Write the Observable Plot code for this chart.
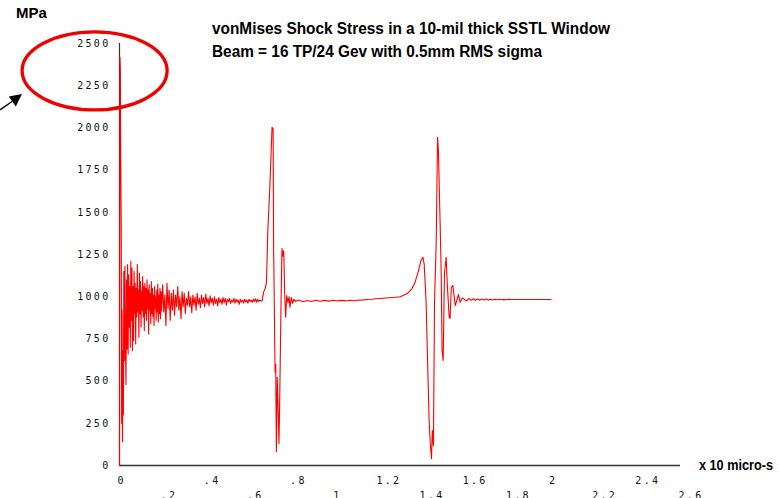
<!DOCTYPE html>
<html>
<head>
<meta charset="utf-8">
<script src="https://cdn.jsdelivr.net/npm/d3@7"></script>
<script src="https://cdn.jsdelivr.net/npm/@observablehq/plot@0.6"></script>
<style>
  html, body { margin: 0; padding: 0; background: #fff; }
  #chart { position: relative; width: 779px; height: 498px; overflow: hidden; }
  #chart g[aria-label$="tick label"] text { letter-spacing: 2.3px; }
</style>
</head>
<body>
<div id="chart"></div>
<script>
// Axis ticks and their printed labels
const yTicks = [0, 250, 500, 750, 1000, 1250, 1500, 1750, 2000, 2250, 2500];
const xTopTicks = [0, 0.4, 0.8, 1.2, 1.6, 2, 2.4];
const xTopLabels = ["0", ".4", ".8", "1.2", "1.6", "2", "2.4"];
const xBottomTicks = [0.2, 0.6, 1, 1.4, 1.8, 2.2, 2.6];
const xBottomLabels = [".2", ".6", "1", "1.4", "1.8", "2.2", "2.6"];

const titleLines = [
  "vonMises Shock Stress in a 10-mil thick SSTL Window",
  "Beam = 16 TP/24 Gev with 0.5mm RMS sigma"
];

// Stress history, time in units of 10 micro-s, stress in MPa
const impact = [
  [0, 0], [0.002, 2420], [0.004, 2350], [0.006, 1780], [0.008, 1430],
  [0.010, 250], [0.012, 920], [0.014, 140], [0.016, 680], [0.018, 300]
];

// Early ring-down, sampled every 0.0025 from t = 0.02
const earlyStart = 0.02;
const earlyStep = 0.0025;
const earlyMPa = [
  1150, 620, 1180, 700, 480, 1100, 690, 1190, 660,
  1130, 820, 1060, 700, 1210, 860, 1170, 680,
  1060, 740, 1150, 900, 1080, 720, 1050, 880,
  1190, 910, 1040, 760, 1140, 900, 1090, 820,
  1030, 920, 1120, 880, 1060, 800, 1080, 900,
  1050, 860, 1100, 930, 1040, 780, 1070, 920,
  1020, 840, 1090, 900, 1050, 880, 1010, 830,
  1060, 930, 1000, 860, 1040, 910, 1075, 850,
  1010, 900, 1050, 870, 1030, 915, 1000
];

// Late ring-down, sampled every 0.005 from t = 0.2
const lateStart = 0.2;
const lateStep = 0.005;
const lateMPa = [
  1070, 910, 1010, 830, 1080, 930, 1040, 860, 1020, 920,
  1040, 890, 1010, 940, 1060, 920, 1000, 870, 1030,
  940, 1020, 900, 990, 950, 1030, 940, 1000, 905, 1010,
  950, 1000, 920, 1020, 955, 990, 935, 1010, 960,
  995, 940, 1015, 960, 990, 945, 1005, 965, 990, 950,
  1000, 960, 985, 945, 995, 965, 985, 955, 995,
  965, 990, 950, 985, 970, 990, 960, 980, 968, 990,
  962, 985, 968, 980, 955, 985, 968, 980, 962,
  985, 968, 980, 962, 985, 972, 980, 966, 985, 972, 988,
  968, 985, 972, 980, 975
];

const firstReflection = [
  [0.661, 975], [0.668, 1027], [0.675, 1050], [0.681, 1080], [0.687, 1374],
  [0.696, 1629], [0.702, 1826], [0.707, 2004], [0.712, 1995], [0.714, 1333],
  [0.721, 553], [0.724, 600], [0.727, 80], [0.731, 523], [0.736, 300],
  [0.739, 130], [0.742, 345], [0.749, 990], [0.753, 1285], [0.757, 1240],
  [0.761, 1272], [0.766, 1000], [0.770, 879], [0.775, 1007], [0.781, 965],
  [0.786, 1000], [0.790, 938], [0.796, 995], [0.802, 960], [0.808, 985],
  [0.815, 972]
];

const plateau = [
  [0.83, 980], [0.85, 970], [0.87, 978], [0.89, 972], [0.91, 979],
  [0.93, 973], [0.95, 978], [0.97, 974], [0.99, 979], [1.01, 975],
  [1.03, 978], [1.05, 975], [1.07, 979], [1.09, 976], [1.11, 980],
  [1.13, 981], [1.15, 983], [1.17, 985], [1.19, 988], [1.22, 991],
  [1.25, 994], [1.28, 997]
];

const secondReflection = [
  [1.301, 1000], [1.332, 1017], [1.355, 1047], [1.370, 1086], [1.386, 1155],
  [1.397, 1214], [1.406, 1234], [1.412, 1195], [1.421, 967], [1.427, 662],
  [1.435, 267], [1.441, 118], [1.446, 40], [1.450, 207], [1.455, 118],
  [1.460, 967], [1.468, 1333], [1.474, 1945], [1.478, 1866], [1.486, 1432],
  [1.491, 1136], [1.495, 681], [1.500, 622], [1.506, 1136], [1.514, 1234],
  [1.519, 1076], [1.528, 879], [1.532, 871], [1.538, 1056], [1.545, 1067],
  [1.556, 948], [1.563, 977], [1.571, 1013], [1.579, 967], [1.589, 993],
  [1.602, 980]
];

const settle = [
  [1.61, 975], [1.62, 990], [1.63, 978], [1.64, 988], [1.65, 979],
  [1.66, 987], [1.67, 980], [1.68, 986], [1.69, 981], [1.70, 986],
  [1.71, 980], [1.72, 985], [1.73, 981], [1.74, 985], [1.75, 982],
  [1.76, 985], [1.77, 982], [1.78, 984], [1.79, 982], [1.80, 984],
  [1.82, 983], [2.0, 983]
];

const pairs = (rows) => rows.map(([t, mpa]) => ({t, mpa}));
const sampled = (values, start, step) => values.map((mpa, i) => ({t: start + i * step, mpa}));
const stress = [
  ...pairs(impact),
  ...sampled(earlyMPa, earlyStart, earlyStep),
  ...sampled(lateMPa, lateStart, lateStep),
  ...pairs(firstReflection),
  ...pairs(plateau),
  ...pairs(secondReflection),
  ...pairs(settle)
];

const tickFont = "'DejaVu Sans Mono', monospace";

const plot = Plot.plot({
  width: 779,
  height: 498,
  marginTop: 43,
  marginRight: 99,
  marginBottom: 33,
  marginLeft: 119,
  style: {background: "#fff", color: "#111", fontFamily: tickFont, fontSize: "10px", overflow: "visible"},
  x: {domain: [0, 2.6]},
  y: {domain: [0, 2500]},
  marks: [
    Plot.axisY(yTicks, {tickSize: 0, tickPadding: 9, label: null, tickFormat: (d) => String(d)}),
    // x labels are printed starting at their tick, in two staggered rows
    Plot.axisX(xTopTicks, {tickSize: 0, tickPadding: 11, label: null, textAnchor: "start", dx: -2,
      tickFormat: (d) => xTopLabels[xTopTicks.indexOf(d)]}),
    Plot.axisX(xBottomTicks, {tickSize: 0, tickPadding: 26, label: null, textAnchor: "start", dx: -2,
      tickFormat: (d) => xBottomLabels[xBottomTicks.indexOf(d)]}),
    Plot.ruleX([0], {stroke: "#333", strokeWidth: 1.2}),
    Plot.ruleY([0], {stroke: "#333", strokeWidth: 1.6}),
    Plot.line(stress, {x: "t", y: "mpa", stroke: "#ff0000", strokeWidth: 1.1})
  ]
});

document.getElementById("chart").append(plot);

// Headings, units and the highlight around the initial peak
const svg = d3.select(plot);
const xs = plot.scale("x");
const ys = plot.scale("y");
const bold = svg.append("g")
  .attr("font-family", "'Liberation Sans', Arial, sans-serif")
  .attr("font-weight", "bold")
  .attr("text-anchor", "start")
  .attr("fill", "#000");

bold.append("text").attr("x", 16).attr("y", 18).attr("font-size", 15).text("MPa");
bold.append("text").attr("x", 212).attr("y", 34).attr("font-size", 16)
  .attr("textLength", 398).attr("lengthAdjust", "spacingAndGlyphs").text(titleLines[0]);
bold.append("text").attr("x", 212).attr("y", 56.5).attr("font-size", 16)
  .attr("textLength", 330).attr("lengthAdjust", "spacingAndGlyphs").text(titleLines[1]);
bold.append("text").attr("x", 699).attr("y", 470).attr("font-size", 14)
  .attr("textLength", 74).attr("lengthAdjust", "spacingAndGlyphs").text("x 10 micro-s");

svg.append("ellipse")
  .attr("cx", xs.apply(-0.113))
  .attr("cy", ys.apply(2335))
  .attr("rx", 72.5)
  .attr("ry", 39)
  .attr("fill", "none")
  .attr("stroke", "#ee0000")
  .attr("stroke-width", 3.3);

const arrow = svg.append("g").attr("fill", "#000").attr("stroke", "#000");
arrow.append("line").attr("x1", 0).attr("y1", 110).attr("x2", 12).attr("y2", 101.5).attr("stroke-width", 1.5);
arrow.append("polygon").attr("points", "22,94 8.8,96.5 15.8,106.5").attr("stroke", "none");
</script>
</body>
</html>
